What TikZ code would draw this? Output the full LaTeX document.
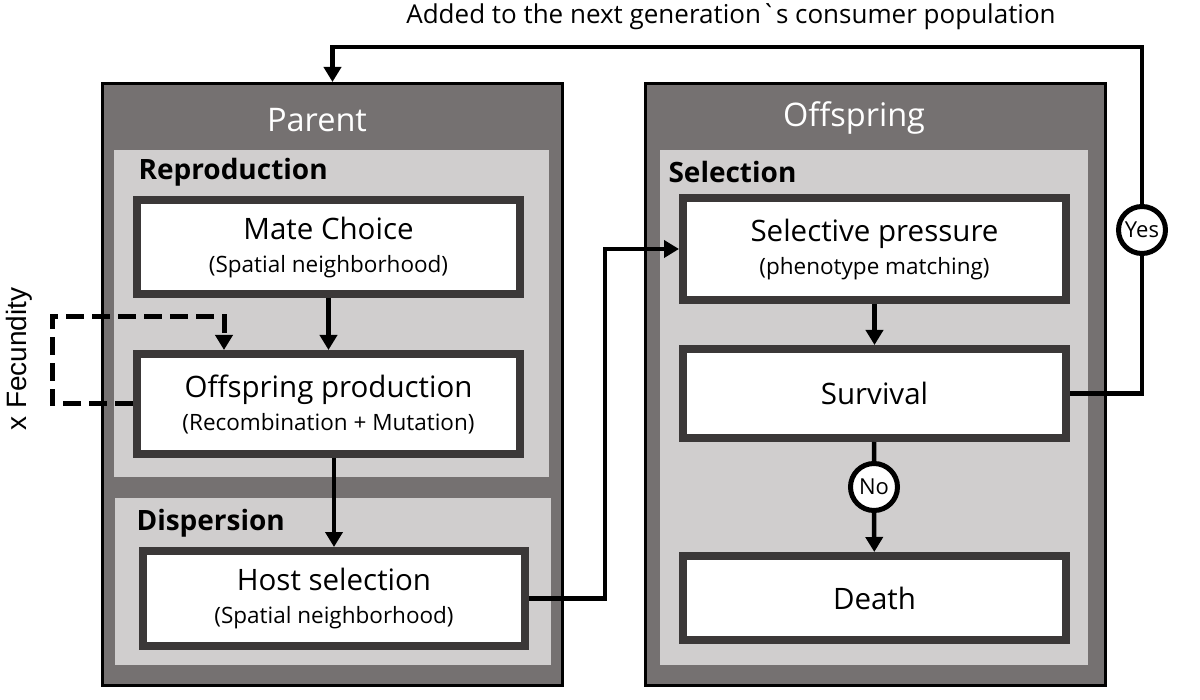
\documentclass[tikz,border=0pt]{standalone}
\usepackage{fontspec}
\setmainfont{Open Sans}
\newfontfamily\labelfont{Liberation Sans}
\usetikzlibrary{calc, positioning, arrows.meta}
\definecolor{color_outer}{HTML}{757171}
\definecolor{color_inner}{HTML}{D0CECE}
\definecolor{color_edge}{HTML}{3B3838}
\definecolor{color_text}{HTML}{000000}
\tikzset{
  stage_box/.style={draw=black, line width=3pt, fill=color_outer, inner sep=0pt},
  phase_box/.style={fill=color_inner, inner sep=0pt},
  step_box/.style={draw=color_edge, line width=8pt, fill=white, align=center, inner sep=0pt, text=color_text, font=\fontsize{29.5}{33}\selectfont},
  stage_title/.style={text=white, font=\fontsize{32.5}{38}\selectfont},
  phase_label/.style={anchor=west, text=color_text, font=\bfseries\fontsize{28}{32}\selectfont},
  choice_dot/.style={circle, draw=black, line width=5pt, fill=white, inner sep=0pt, minimum size=47pt, font=\fontsize{22}{24}\selectfont},
  figure_label/.style={text=color_text, font=\fontsize{26}{30}\selectfont},
  side_label/.style={text=color_text, font=\labelfont\fontsize{28}{32}\selectfont},
  flow_line/.style={draw=black, line width=4.5pt},
  flow_arrow/.style={flow_line, -{Triangle[length=15pt, width=17pt]}},
  feedback_arrow/.style={flow_arrow, line width=5pt, dash pattern=on 18pt off 8pt},
}
\newcommand{\stepnote}[1]{{\fontsize{22.5}{26}\selectfont #1}}

\begin{document}
\begin{tikzpicture}[x=1pt, y=-1pt]
    \useasboundingbox (0,0) rectangle (1200,700);

    \node[stage_box, minimum width=460pt, minimum height=602pt] (parent)    at (332.5, 384.5) {};
    \node[stage_box, minimum width=460pt, minimum height=602pt] (offspring) at (875.5, 384.5) {};
    \node[stage_title] (parent_title)    at (317, 120) {Parent};
    \node[stage_title] (offspring_title) at (854, 118) {Offspring};

    \node[phase_box, minimum width=435pt, minimum height=327pt] (repro) at (331.5, 313.5) {};
    \node[phase_box, minimum width=436pt, minimum height=167pt] (disp)  at (333, 581.5) {};
    \node[phase_box, minimum width=428pt, minimum height=515pt] (sel)   at (874, 407.5) {};
    \node[phase_label] (repro_label) at (135, 172) {Reproduction};
    \node[phase_label] (disp_label)  at (133, 523) {Dispersion};
    \node[phase_label] (sel_label)   at (665, 172) {Selection};

    \node[step_box, minimum width=383pt, minimum height=94pt]  (mate)  at (328.5, 247)   {Mate Choice\\\stepnote{(Spatial neighborhood)}};
    \node[step_box, minimum width=383pt, minimum height=100pt] (prod)  at (328.5, 404)   {Offspring production\\\stepnote{(Recombination + Mutation)}};
    \node[step_box, minimum width=382pt, minimum height=95pt]  (host)  at (334, 598.5)   {Host selection\\\stepnote{(Spatial neighborhood)}};
    \node[step_box, minimum width=383pt, minimum height=102pt] (press) at (874.5, 249)   {Selective pressure\\\stepnote{(phenotype matching)}};
    \node[step_box, minimum width=383pt, minimum height=89pt]  (surv)  at (874.5, 393.5) {Survival};
    \node[step_box, minimum width=383pt, minimum height=84pt]  (death) at (874.5, 598)   {Death};

    \node[choice_dot] (no)  at (874, 487)  {No};
    \node[choice_dot] (yes) at (1142, 230) {Yes};
    \coordinate (loop_top) at (1142, 47);
    \coordinate (fec_turn) at (52, 317);

    \node[figure_label] (gen_label) at (731, 17) {Added to the next generation\textasciigrave s consumer population};
    \node[side_label, rotate=90] (fec_label) at (19, 359) {x Fecundity};

    \draw[flow_arrow] (mate) -- (prod);
    \draw[flow_arrow] (host.north |- prod.south) -- (host);
    \draw[feedback_arrow] (prod.west) -| (fec_turn) -| ([xshift=91pt]prod.north west);
    \draw[flow_arrow] (host.east) -- ++(76,0) |- (press);
    \draw[flow_arrow] (press) -- (surv);
    \draw[flow_line] (surv) -- (no);
    \draw[flow_arrow] (no) -- (death);
    \draw[flow_line] (surv.east) -| (yes);
    \draw[flow_arrow] (yes) -- (loop_top) -| (parent);
\end{tikzpicture}
\end{document}
